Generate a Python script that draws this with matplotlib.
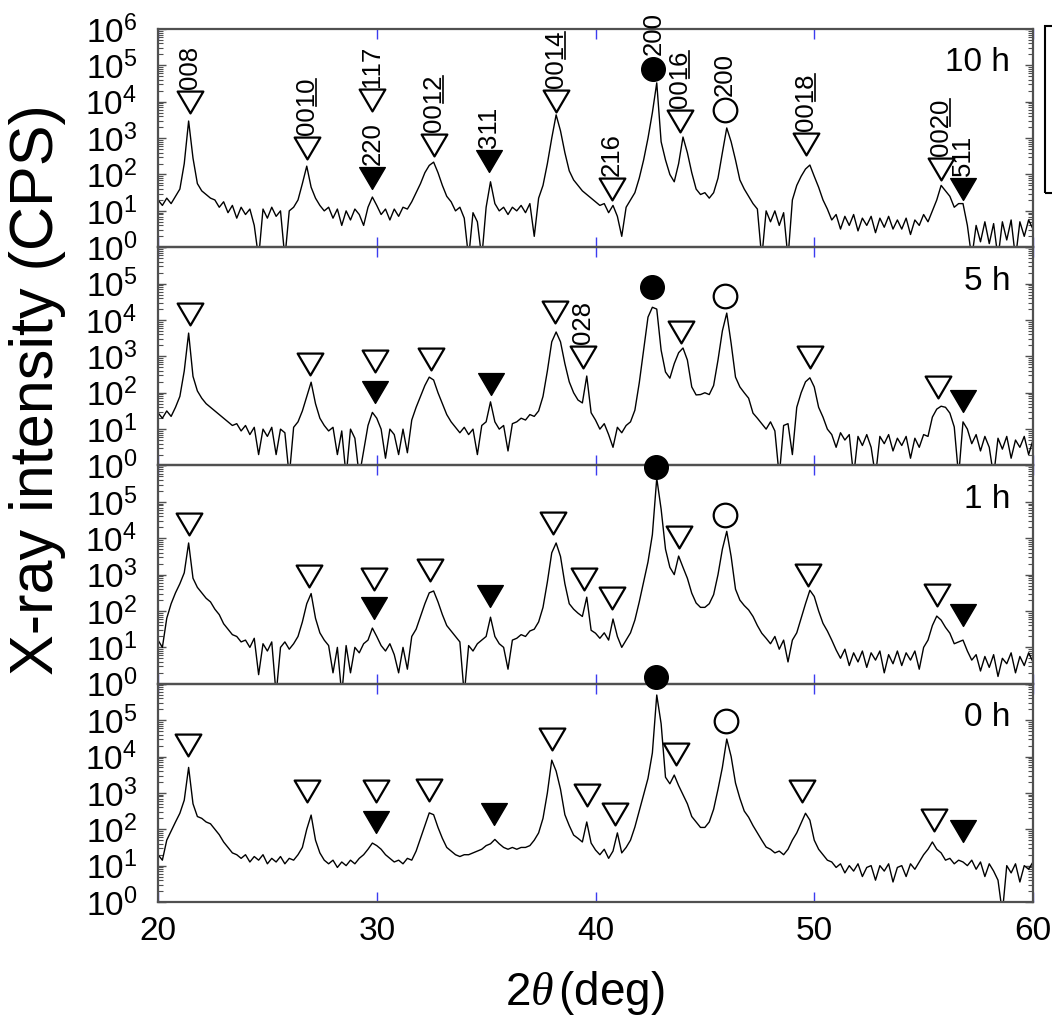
import numpy as np
import matplotlib
matplotlib.use("Agg")
import matplotlib.pyplot as plt
import matplotlib.patches as mpatches
from matplotlib.lines import Line2D
from matplotlib.path import Path
from matplotlib.ticker import LogLocator, NullFormatter

plt.rcParams["font.family"] = ["Liberation Sans", "DejaVu Sans"]
plt.rcParams["mathtext.fontset"] = "custom"
plt.rcParams["mathtext.rm"] = "Liberation Sans"
plt.rcParams["mathtext.it"] = "Liberation Serif:italic"

# step scan of the diffractometer (deg)
scan_start, scan_stop, scan_step = 20.0, 60.0, 0.2
two_theta = np.linspace(scan_start, scan_stop, int(round((scan_stop - scan_start) / scan_step)) + 1)

# log10 of intensity (CPS), one row = 2 deg
log_i_10h = [
    1.3, 1.15, 1.35, 1.2, 1.4, 1.6, 2.3, 3.47, 2.45, 1.75,
    1.55, 1.45, 1.35, 1.3, 1.1, 1.25, 0.95, 1.15, 0.8, 1.1,
    0.9, 1.05, 0.6, -0.3, 1.05, 0.8, 1.1, 0.85, 1.0, -0.3,
    1.0, 1.1, 1.3, 1.75, 2.23, 1.65, 1.35, 1.15, 1.0, 1.1,
    0.8, 1.05, 0.6, 1.0, 0.75, 1.05, 0.9, 0.6, 1.1, 1.38,
    1.15, 0.9, 1.05, 0.75, 1.05, 0.85, 1.1, 1.05, 1.25, 1.5,
    1.75, 2.05, 2.25, 2.34, 2.05, 1.7, 1.4, 1.25, 1.0, 1.1,
    0.8, -0.3, 0.95, 0.7, -0.3, 1.1, 1.8, 1.2, 1.0, 1.1,
    0.9, 1.1, 1.0, 1.15, 0.95, 1.2, 0.3, 1.35, 1.7, 2.3,
    3.0, 3.64, 3.2, 2.6, 2.1, 1.85, 1.7, 1.55, 1.45, 1.35,
    1.25, 1.15, 1.2, 0.95, 1.15, 0.85, 0.3, 1.1, 1.3, 1.5,
    1.9, 2.4, 3.0, 3.7, 4.52, 2.9, 2.4, 2.0, 1.8, 2.3,
    3.03, 2.6, 2.05, 1.6, 1.45, 1.5, 1.35, 1.5, 1.9, 2.6,
    3.28, 2.9, 2.4, 1.85, 1.6, 1.4, 1.2, 1.05, -0.3, 1.0,
    0.7, 1.0, 0.6, 0.95, -0.3, 1.3, 1.7, 1.95, 2.15, 2.26,
    1.95, 1.65, 1.3, 1.05, 0.75, 0.9, 0.5, 0.85, 0.6, 0.9,
    0.45, 0.8, 0.6, 0.85, 0.4, 0.8, 0.55, 0.85, 0.5, 0.75,
    0.5, 0.8, 0.35, 0.75, 0.6, 0.9, 0.7, 1.0, 1.3, 1.7,
    1.55, 1.4, 1.1, 1.2, 1.2, 0.6, -0.3, 0.6, 0.15, 0.7,
    0.1, 0.65, -0.3, 0.7, 0.2, 0.75, -0.3, 0.7, 0.3, 0.75,
    0.5,
]
log_i_5h = [
    1.45, 1.3, 1.5, 1.35, 1.6, 1.9, 2.6, 3.64, 2.45, 2.05,
    1.85, 1.7, 1.6, 1.5, 1.4, 1.3, 1.2, 1.1, 1.15, 0.95,
    1.1, 0.85, 1.05, 0.3, 1.0, 0.8, 1.05, 0.3, 1.0, 0.9,
    -0.3, 1.05, 1.2, 1.5, 1.9, 2.29, 1.7, 1.3, 1.1, 0.95,
    1.05, 0.3, 0.95, -0.3, 1.0, 0.75, -0.3, 0.4, 1.1, 1.46,
    1.3, 1.0, 0.2, 1.0, 0.85, 0.3, 1.0, 0.35, 1.25, 1.6,
    1.9, 2.2, 2.43, 2.35, 2.0, 1.7, 1.4, 1.2, 1.05, 0.9,
    1.05, 0.85, 1.0, 0.3, 1.1, 1.2, 1.75, 1.2, 1.0, 1.1,
    0.4, 1.15, 1.2, 1.3, 1.25, 1.4, 1.35, 1.5, 1.9, 2.6,
    3.4, 3.67, 3.4, 2.8, 2.3, 2.0, 1.8, 1.72, 2.46, 1.45,
    1.25, 1.0, 1.15, 0.85, 0.5, 1.05, 0.9, 1.1, 1.2, 1.52,
    2.27, 3.17, 4.08, 4.35, 4.3, 3.17, 2.57, 2.4, 2.8, 3.1,
    3.23, 2.9, 2.16, 1.94, 1.95, 2.0, 1.95, 2.2, 2.9, 3.7,
    4.19, 3.36, 2.43, 2.16, 2.0, 1.85, 1.44, 1.3, 1.15, 1.0,
    1.2, 0.95, -0.3, 1.1, 1.15, 0.3, 1.6, 2.0, 2.3, 2.41,
    2.16, 1.6, 1.33, 1.0, 0.85, 0.5, 0.9, 0.7, 0.85, -0.3,
    0.8, 0.55, 0.85, 0.5, -0.3, 0.8, 0.6, 0.85, 0.4, 0.75,
    0.55, 0.8, 0.2, 0.75, 0.5, 0.85, 0.8, 1.33, 1.55, 1.63,
    1.6, 1.44, 1.06, -0.3, 1.2, 1.0, 0.6, 0.85, 0.4, 0.8,
    0.5, -0.3, 0.75, 0.45, 0.8, 0.2, 0.7, 0.5, 0.8, 0.3,
    0.7,
]
log_i_1h = [
    1.2, 1.0, 1.8, 2.2, 2.5, 2.75, 3.05, 3.87, 2.9, 2.65,
    2.5, 2.35, 2.25, 2.05, 1.9, 1.65, 1.5, 1.35, 1.3, 1.15,
    1.2, 1.0, 1.25, 0.25, 1.1, 0.9, 1.15, -0.3, 1.0, 1.15,
    0.95, 1.1, 1.3, 1.7, 2.2, 2.48, 1.8, 1.4, 1.2, 1.05,
    0.3, 1.0, -0.3, 1.05, 0.3, 1.0, 0.85, 1.1, 1.2, 1.53,
    1.3, 1.05, 0.9, 1.1, 0.8, 0.3, 1.0, 0.4, 1.3, 1.5,
    1.85, 2.2, 2.5, 2.55, 2.25, 1.9, 1.6, 1.45, 1.3, 1.15,
    -0.3, 1.05, 0.9, 1.1, 1.2, 1.3, 1.83, 1.3, 1.1, 1.0,
    0.4, 1.2, 1.25, 1.35, 1.3, 1.45, 1.5, 1.7, 2.1, 2.8,
    3.6, 3.87, 3.5, 2.75, 2.2, 2.05, 1.94, 1.85, 2.38, 1.47,
    1.39, 1.25, 1.4, 1.2, 1.78, 1.3, 1.0, 1.2, 1.4, 1.75,
    2.25, 2.8, 3.35, 4.1, 5.65, 4.8, 3.7, 3.2, 3.0, 3.51,
    3.2, 2.9, 2.49, 2.22, 2.1, 2.1, 2.2, 2.45, 3.0, 3.7,
    4.19, 3.5, 2.6, 2.3, 2.15, 2.03, 1.85, 1.6, 1.39, 1.25,
    1.1, 1.3, 0.95, 1.2, 0.6, 1.2, 1.4, 1.8, 2.2, 2.57,
    2.4, 2.0, 1.66, 1.45, 1.2, 0.93, 0.7, 0.95, 0.5, 0.85,
    0.6, 0.9, 0.45, 0.85, 0.65, 0.9, 0.3, 0.8, 0.55, 0.9,
    0.5, 0.85, 0.65, 0.9, 0.4, 1.0, 1.2, 1.6, 1.86, 1.75,
    1.55, 1.39, 1.1, 1.15, 1.2, 0.9, 0.65, 0.8, 0.35, 0.75,
    0.45, 0.8, 0.2, 0.7, 0.55, 0.85, 0.3, 0.75, 0.5, 0.85,
    0.6,
]
log_i_0h = [
    1.3, 1.15, 1.7, 1.95, 2.2, 2.44, 2.8, 3.7, 2.7, 2.35,
    2.3, 2.2, 2.15, 2.0, 1.85, 1.65, 1.5, 1.35, 1.3, 1.2,
    1.3, 1.1, 1.25, 1.15, 1.3, 1.05, 1.2, 1.1, 1.25, 1.05,
    1.2, 1.15, 1.3, 1.5, 2.0, 2.39, 1.7, 1.35, 1.15, 1.05,
    1.15, 0.95, 1.1, 1.0, 1.15, 1.05, 1.2, 1.3, 1.45, 1.62,
    1.55, 1.45, 1.3, 1.2, 1.1, 1.15, 1.05, 1.2, 1.15, 1.4,
    1.75, 2.1, 2.45, 2.4, 2.05, 1.75, 1.5, 1.4, 1.3, 1.25,
    1.3, 1.3, 1.35, 1.4, 1.45, 1.55, 1.6, 1.72, 1.6, 1.5,
    1.45, 1.5, 1.45, 1.5, 1.5, 1.55, 1.7, 1.9, 2.3, 3.0,
    3.9, 3.6, 3.1, 2.4, 2.1, 1.84, 1.75, 1.65, 2.2, 1.62,
    1.43, 1.3, 1.45, 1.2, 1.4, 1.9, 1.35, 1.5, 1.7, 2.06,
    2.5, 2.95, 3.4, 4.1, 5.69, 4.9, 3.43, 3.25, 3.49, 3.2,
    2.95, 2.7, 2.35, 2.2, 2.05, 2.05, 2.2, 2.55, 3.1, 3.7,
    4.48, 4.0, 3.27, 2.85, 2.5, 2.33, 2.1, 1.9, 1.7, 1.51,
    1.45, 1.35, 1.4, 1.3, 1.45, 1.7, 1.9, 2.17, 2.44, 2.25,
    1.7, 1.45, 1.3, 1.15, 1.1, 0.95, 1.05, 0.8, 1.0, 0.85,
    1.05, 0.7, 0.95, 1.0, 0.6, 1.0, 0.85, 1.05, 0.55, 0.95,
    1.0, 0.7, 1.05, 0.9, 1.1, 1.3, 1.45, 1.65, 1.45, 1.35,
    1.15, 1.2, 1.05, 1.15, 1.1, 1.0, 1.15, 0.9, 1.1, 0.7,
    1.05, 0.85, 0.6, -0.3, 1.0, 0.8, 1.05, 0.55, 1.0, 0.9,
    1.1,
]

# peak markers: position (deg), log10 height of the marker, kind
# v = open triangle, V = filled triangle, c = filled circle, C = open circle
mark_x_10h = [21.45, 26.8, 29.8, 29.8, 32.6, 35.15, 38.2, 40.75, 42.65, 43.85, 45.9, 49.6, 55.8, 56.8]
mark_y_10h = [4.0, 2.72, 4.05, 1.91, 2.8, 2.36, 4.01, 1.61, 4.91, 3.48, 3.77, 2.85, 2.16, 1.61]
mark_k_10h = ["v", "v", "v", "V", "v", "V", "v", "v", "c", "v", "C", "v", "v", "V"]
hkl_10h = ["008", "0010", "117", "220", "0012", "311", "0014", "216", "200", "0016", "200", "0018", "0020", "511"]

mark_x_5h = [21.45, 26.95, 29.9, 29.9, 32.5, 35.2, 38.13, 39.45, 42.57, 43.9, 45.9, 49.8, 55.65, 56.8]
mark_y_5h = [4.16, 2.8, 2.87, 2.02, 2.94, 2.23, 4.22, 2.99, 4.9, 3.68, 4.66, 2.99, 2.17, 1.76]
mark_k_5h = ["v", "v", "v", "V", "v", "V", "v", "v", "c", "v", "C", "v", "v", "V"]
hkl_5h = ["", "", "", "", "", "", "", "028", "", "", "", "", "", ""]

mark_x_1h = [21.4, 26.9, 29.86, 29.86, 32.42, 35.16, 38.04, 39.47, 40.74, 42.75, 43.8, 45.93, 49.7, 55.6, 56.8]
mark_y_1h = [4.38, 2.97, 2.89, 2.08, 3.14, 2.4, 4.43, 2.89, 2.36, 5.96, 4.03, 4.64, 2.99, 2.44, 1.89]
mark_k_1h = ["v", "v", "v", "V", "v", "V", "v", "v", "v", "c", "v", "C", "v", "v", "V"]

mark_x_0h = [21.37, 26.8, 29.95, 29.95, 32.37, 35.35, 37.99, 39.6, 40.87, 42.75, 43.7, 45.98, 49.45, 55.47, 56.8]
mark_y_0h = [4.31, 3.04, 3.04, 2.2, 3.09, 2.43, 4.49, 2.93, 2.43, 6.18, 4.07, 4.97, 3.04, 2.25, 1.94]
mark_k_0h = ["v", "v", "v", "V", "v", "V", "v", "v", "v", "c", "v", "C", "v", "v", "V"]

times = ["10 h", "5 h", "1 h", "0 h"]

# ---------------------------------------------------------------------------
W, H = 1052, 1022
fig = plt.figure(figsize=(W / 100, H / 100), dpi=100)
axes = fig.subplots(4, 1, sharex=True, gridspec_kw={"hspace": 0})
fig.subplots_adjust(left=158 / W, right=1033 / W, top=1 - 29 / H, bottom=1 - 902 / H)

tri = Path([(-1, 0.85), (1, 0.85), (0, -0.85), (-1, 0.85)],
           [Path.MOVETO, Path.LINETO, Path.LINETO, Path.CLOSEPOLY])
marker_style = {
    "v": dict(marker=tri, ms=18.5, mfc="white", mec="black", mew=1.6),
    "V": dict(marker=tri, ms=18.5, mfc="black", mec="black", mew=1.0),
    "c": dict(marker="o", ms=17, mfc="black", mec="black", mew=1.0),
    "C": dict(marker="o", ms=17, mfc="white", mec="black", mew=1.6),
}
half_height = {"v": 0.425 * 18.5, "V": 0.425 * 18.5, "c": 8.5, "C": 8.5}

spine_color = "#505050"
panels = [
    (log_i_10h, mark_x_10h, mark_y_10h, mark_k_10h, hkl_10h),
    (log_i_5h, mark_x_5h, mark_y_5h, mark_k_5h, hkl_5h),
    (log_i_1h, mark_x_1h, mark_y_1h, mark_k_1h, None),
    (log_i_0h, mark_x_0h, mark_y_0h, mark_k_0h, None),
]

hkl_texts = []
for i, (ax, (log_i, mx, my, mk, hkl)) in enumerate(zip(axes, panels)):
    ax.set_facecolor("none")
    ax.plot(two_theta, 10 ** np.array(log_i), color="black", lw=1.0, zorder=2)

    for kind in ["v", "V", "c", "C"]:
        xs = [x for x, k in zip(mx, mk) if k == kind]
        ys = [10 ** y for y, k in zip(my, mk) if k == kind]
        ax.plot(xs, ys, ls="none", clip_on=False, zorder=6, **marker_style[kind])

    if hkl is not None:
        for x, y, k, lab in zip(mx, my, mk, hkl):
            if not lab:
                continue
            t = ax.annotate(lab, xy=(x, 10 ** y), xytext=(0, half_height[k] + 1.5),
                            textcoords="offset points", rotation=90,
                            ha="center", va="bottom", fontsize=18.5, zorder=7,
                            annotation_clip=False)
            if len(lab) == 4:
                hkl_texts.append(t)

    ax.text(0.974, 0.845, times[i], transform=ax.transAxes, ha="right",
            va="center", fontsize=24)

    ax.set_yscale("log")
    ax.set_ylim(1, 1e6)
    ax.set_xlim(20, 60)
    yt = [10 ** k for k in range(7)]
    ylabels = [r"$\mathdefault{10^{%d}}$" % k for k in range(7)]
    if i > 0:
        ylabels[-1] = ""
    ax.set_yticks(yt, labels=ylabels)
    ax.yaxis.set_minor_locator(LogLocator(base=10, subs=np.arange(2, 10), numticks=30))
    ax.yaxis.set_minor_formatter(NullFormatter())
    ax.set_xticks([20, 30, 40, 50, 60])

    ax.tick_params(axis="x", which="major", direction="in", top=True, bottom=True,
                   length=7, width=1.0, color="#3c3cf0", labelsize=24, pad=10)
    ax.tick_params(axis="y", which="both", direction="in", left=True, right=True,
                   color=spine_color)
    ax.tick_params(axis="y", which="major", length=6, width=1.0, labelsize=24, pad=15)
    ax.tick_params(axis="y", which="minor", length=3.5, width=0.8)
    for sp in ax.spines.values():
        sp.set_color(spine_color)
        sp.set_linewidth(1.6)

fig.text(38 / W, 1 - 390 / H, "X-ray intensity (CPS)", rotation=90,
         ha="center", va="center", fontsize=44)
fig.text(585 / W, 1 - 993 / H, r"2$\theta\,$(deg)", ha="center", va="center",
         fontsize=33)

# piece of the legend frame that is cut off at the right edge
fig.add_artist(mpatches.Rectangle((1045 / W, 1 - 193 / H), 40 / W, 167 / H,
                                  transform=fig.transFigure, fill=False,
                                  ec="black", lw=1.5))

# underline the two-digit part of the 00l indices
fig.canvas.draw()
renderer = fig.canvas.get_renderer()
for t in hkl_texts:
    bb = t.get_window_extent(renderer)
    ux = bb.x1 - 3
    fig.add_artist(Line2D([ux / W, ux / W], [(bb.y0 + bb.height / 2 + 1) / H, (bb.y1 - 1) / H],
                          transform=fig.transFigure, color="black", lw=1.2))

fig.savefig("out.png", dpi=100)
